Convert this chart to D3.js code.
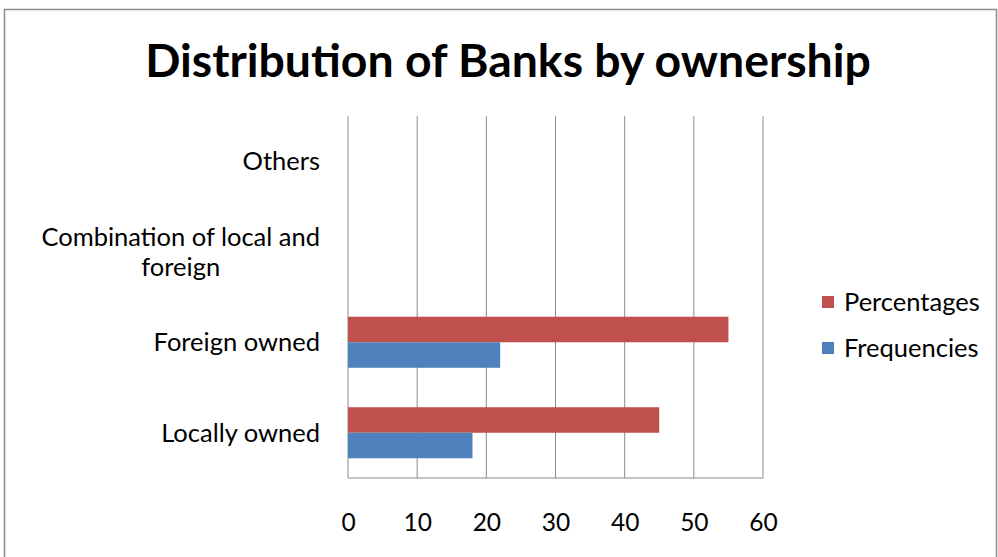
<!DOCTYPE html>
<html>
<head>
<meta charset="utf-8">
<script src="https://cdn.jsdelivr.net/npm/d3@7"></script>
<style>
  html, body { margin: 0; padding: 0; background: #fff; }
  svg { display: block; }
  text { font-family: Lato, "Open Sans", sans-serif; fill: #000; }
</style>
</head>
<body>
<svg id="chart" width="998" height="557"></svg>
<script>
// Bank ownership categories, drawn top to bottom
const categories = ["Others", "Combination of local and foreign", "Foreign owned", "Locally owned"];
const seriesNames = ["Percentages", "Frequencies"];
const percentages = [0, 0, 55, 45];
const frequencies = [0, 0, 22, 18];
const xTicks = [0, 10, 20, 30, 40, 50, 60];
const colors = { Percentages: "#C0504D", Frequencies: "#4F81BD" };

const svg = d3.select("#chart");
const labelSize = "25.5px";

// outer chart frame
svg.append("rect")
  .attr("x", 4.5).attr("y", 9.5)
  .attr("width", 992).attr("height", 560)
  .attr("fill", "#fff").attr("stroke", "#8c8c8c").attr("stroke-width", 1.5);

// title, sized to span its line
const title = svg.append("text")
  .attr("x", 508).attr("y", 77)
  .attr("text-anchor", "middle")
  .style("font-weight", "bold")
  .style("font-size", "40px")
  .text("Distribution of Banks by ownership");
const tw = title.node().getComputedTextLength();
title.style("font-size", (40 * 726 / tw) + "px");

const plot = { left: 348, right: 763, top: 116, bottom: 478 };

const x = d3.scaleLinear().domain([0, 60]).range([plot.left, plot.right]);
const y = d3.scaleBand().domain(categories)
  .range([plot.top, plot.bottom])
  .paddingInner(0.436).paddingOuter(0.218);
const ySub = d3.scaleBand().domain(seriesNames).range([0, y.bandwidth()]);

// vertical gridlines
svg.append("g").selectAll("line").data(xTicks).join("line")
  .attr("x1", d => x(d)).attr("x2", d => x(d))
  .attr("y1", plot.top).attr("y2", plot.bottom)
  .attr("stroke", "#8c8c8c").attr("stroke-width", 1);

// bottom baseline
svg.append("line")
  .attr("x1", plot.left).attr("x2", plot.right)
  .attr("y1", plot.bottom).attr("y2", plot.bottom)
  .attr("stroke", "#8c8c8c").attr("stroke-width", 1);

// bars
const rows = categories.map((c, i) => ({ cat: c, Percentages: percentages[i], Frequencies: frequencies[i] }));
const groups = svg.append("g").selectAll("g").data(rows).join("g")
  .attr("transform", d => `translate(0,${y(d.cat)})`);
groups.selectAll("rect")
  .data(d => seriesNames.map(s => ({ s, v: d[s] })).filter(e => e.v > 0))
  .join("rect")
  .attr("x", x(0))
  .attr("y", d => ySub(d.s))
  .attr("width", d => x(d.v) - x(0))
  .attr("height", ySub.bandwidth())
  .attr("fill", d => colors[d.s]);

// x axis labels
const xAxis = d3.axisBottom(x).tickValues(xTicks).tickSize(0).tickPadding(0);
const xg = svg.append("g").attr("transform", `translate(0,${plot.bottom + 53})`).call(xAxis);
xg.select(".domain").remove();
xg.selectAll("text").style("font-size", "24.5px").attr("dy", 0).style("fill", "#000")
  .style("font-family", "Lato, 'Open Sans', sans-serif");

// category labels (wrapped, centred block ending at the label edge)
const labelRight = 320, maxW = 300, lineH = 30;
categories.forEach(c => {
  const cy = y(c) + y.bandwidth() / 2;
  const t = svg.append("text").style("font-size", labelSize);
  const words = c.split(" ");
  const lines = [];
  let cur = [];
  words.forEach(w => {
    cur.push(w);
    t.text(cur.join(" "));
    if (t.node().getComputedTextLength() > maxW && cur.length > 1) {
      cur.pop();
      lines.push(cur.join(" "));
      cur = [w];
    }
  });
  lines.push(cur.join(" "));
  t.text(null);
  const widths = lines.map(l => { t.text(l); return t.node().getComputedTextLength(); });
  t.text(null);
  const blockW = d3.max(widths);
  const cx = labelRight - blockW / 2;
  const y0 = cy - (lines.length - 1) * lineH / 2;
  t.attr("text-anchor", "middle");
  lines.forEach((l, i) => {
    t.append("tspan").attr("x", cx).attr("y", y0 + i * lineH).attr("dy", "0.35em").text(l);
  });
});

// legend
const legend = svg.append("g").attr("transform", "translate(822,302)");
seriesNames.forEach((s, i) => {
  const g = legend.append("g").attr("transform", `translate(0,${i * 46})`);
  g.append("rect").attr("x", 0).attr("y", -6).attr("width", 12).attr("height", 12).attr("fill", colors[s]);
  g.append("text").attr("x", 22).attr("y", 0).attr("dy", "0.35em").style("font-size", labelSize).text(s);
});
</script>
</body>
</html>
